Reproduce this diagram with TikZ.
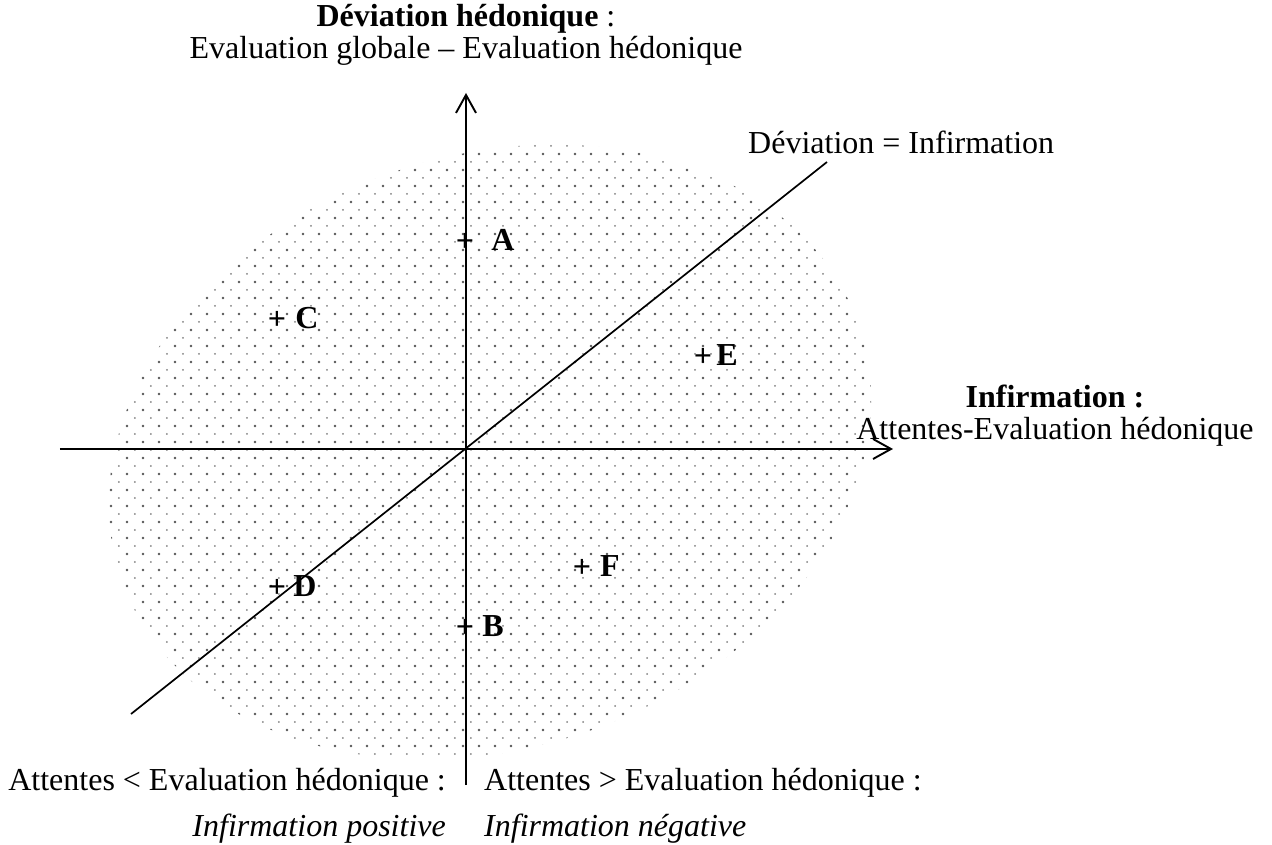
\documentclass[tikz,border=0pt]{standalone}
\usepackage{fontspec}
\setmainfont{Liberation Serif}
\usetikzlibrary{positioning,arrows.meta}
\definecolor{dotgray}{HTML}{555555}

\begin{document}
\begin{tikzpicture}[x=1pt, y=1pt,
    axisLine/.style={line width=1.9pt, draw=black},
    axisArrow/.style={axisLine, -{Straight Barb[length=18pt, width=20pt]}},
    bigDot/.style={fill=dotgray},
    smallDot/.style={fill=dotgray!75},
    plainText/.style={font=\fontsize{32}{32}\selectfont, inner sep=0pt},
    markPlus/.style={font=\fontsize{32}{38}\selectfont\bfseries, inner sep=0pt},
    pointTag/.style={font=\fontsize{32}{38}\selectfont\bfseries, inner sep=0pt}
]
    \useasboundingbox (-466,-396) rectangle (806,449);

    % Dotted cloud
    \begin{scope}
        \clip[rotate around={19:(24,-3)}] (24,-3) ellipse [x radius=390, y radius=296];
        \foreach \j in {-20,...,20}
            \foreach \i in {-25,...,27}
                \fill[bigDot] (16*\i-3, 16*\j+7) circle (1.4);
        \foreach \j in {-20,...,20}
            \foreach \i in {-25,...,27}
                \fill[smallDot] (16*\i+5, 16*\j-1) circle (1.0);
    \end{scope}

    % Axes
    \coordinate (origin) at (0,0);
    \coordinate (xStart) at (-406,0);
    \coordinate (xEnd) at (427,0);
    \coordinate (yStart) at (0,-336);
    \coordinate (yEnd) at (0,356);
    \coordinate (dStart) at (-335,-265);
    \coordinate (dEnd) at (361,287);
    \draw[axisArrow] (xStart) -- (xEnd);
    \draw[axisArrow] (yStart) -- (yEnd);
    \draw[axisLine, line width=1.7pt] (dStart) -- (dEnd);

    % Axis titles
    \node[plainText, align=center] (yTitle) at (0,414) {\textbf{Déviation hédonique} :\\Evaluation globale -- Evaluation hédonique};
    \node[plainText, align=center] (xTitle) at (589,33) {\textbf{Infirmation :}\\Attentes-Evaluation hédonique};
    \node[plainText, anchor=base west] (dTitle) at (282,295) {Déviation = Infirmation};

    % Bottom captions
    \node[plainText, align=right, anchor=east] (posCap) at (-20,-357) {Attentes < Evaluation hédonique :\\[14pt]\textit{Infirmation positive}};
    \node[plainText, align=left, anchor=west] (negCap) at (18,-357) {Attentes > Evaluation hédonique :\\[14pt]\textit{Infirmation négative}};

    % Points
    \node[markPlus] (pA) at (-1,207) {+};
    \node[pointTag] (tA) at ([xshift=38pt, yshift=2pt]pA.center) {A};
    \node[markPlus] (pB) at (-1,-179) {+};
    \node[pointTag] (tB) at ([xshift=28pt, yshift=2pt]pB.center) {B};
    \node[markPlus] (pC) at (-189,129) {+};
    \node[pointTag] (tC) at ([xshift=30pt, yshift=2pt]pC.center) {C};
    \node[markPlus] (pD) at (-189,-139) {+};
    \node[pointTag] (tD) at ([xshift=28pt, yshift=2pt]pD.center) {D};
    \node[markPlus] (pE) at (237,92) {+};
    \node[pointTag] (tE) at ([xshift=24pt, yshift=2pt]pE.center) {E};
    \node[markPlus] (pF) at (116,-119) {+};
    \node[pointTag] (tF) at ([xshift=28pt, yshift=2pt]pF.center) {F};
\end{tikzpicture}
\end{document}
